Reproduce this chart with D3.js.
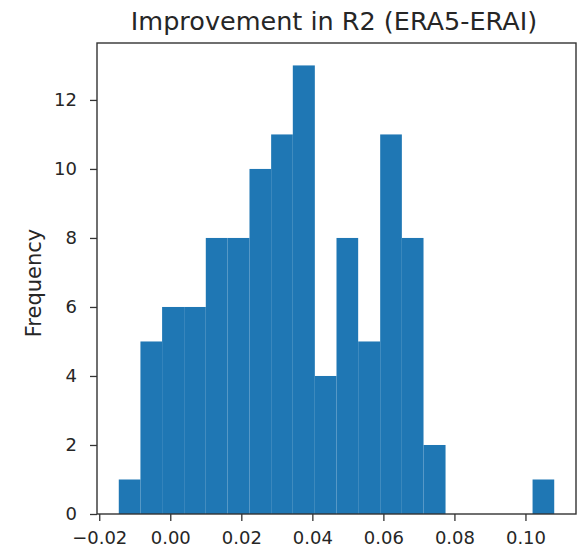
<!DOCTYPE html>
<html>
<head>
<meta charset="utf-8">
<script src="https://cdn.jsdelivr.net/npm/d3@7"></script>
<style>
  html, body { margin: 0; padding: 0; background: #ffffff; }
  svg { display: block; }
  text { font-family: "DejaVu Sans", sans-serif; fill: #262626; }
</style>
</head>
<body>
<script>
// Histogram of the R2 improvement, ERA5 minus ERA-Interim
const binEdges = [-0.0145, -0.0084, -0.0023, 0.0039, 0.0100, 0.0161, 0.0223,
                  0.0284, 0.0345, 0.0407, 0.0468, 0.0529, 0.0591, 0.0652,
                  0.0713, 0.0775, 0.0836, 0.0897, 0.0959, 0.1020, 0.1081];
const binCounts = [1, 5, 6, 6, 8, 8, 10, 11, 13, 4, 8, 5, 11, 8, 2, 0, 0, 0, 0, 1];
const xTickValues = [-0.02, 0.00, 0.02, 0.04, 0.06, 0.08, 0.10];
const yTickValues = [0, 2, 4, 6, 8, 10, 12];
const titleText = "Improvement in R2 (ERA5-ERAI)";
const yLabelText = "Frequency";

const W = 582, H = 553;
const plot = { left: 97, right: 576, top: 43, bottom: 514 };

const bins = binCounts.map((c, i) => ({ x0: binEdges[i], x1: binEdges[i + 1], count: c }));

const lo = binEdges[0], hi = binEdges[binEdges.length - 1];
const pad = 0.05 * (hi - lo);
const x = d3.scaleLinear().domain([lo - pad, hi + pad]).range([plot.left, plot.right]);
const yMax = d3.max(binCounts) * 1.05;
const y = d3.scaleLinear().domain([0, yMax]).range([plot.bottom, plot.top]);

const svg = d3.select("body").append("svg").attr("width", W).attr("height", H);

// bars
svg.append("g")
  .selectAll("rect")
  .data(bins.filter(d => d.count > 0))
  .join("rect")
  .attr("x", d => x(d.x0))
  .attr("width", d => x(d.x1) - x(d.x0))
  .attr("y", d => y(d.count))
  .attr("height", d => y(0) - y(d.count))
  .attr("fill", "#1f77b4");

// axes
const fmt = v => (v < 0 ? "\u2212" : "") + d3.format(".2f")(Math.abs(v));
const xAxis = d3.axisBottom(x).tickValues(xTickValues).tickFormat(fmt)
  .tickSizeInner(7).tickSizeOuter(0).tickPadding(10);
const yAxis = d3.axisLeft(y).tickValues(yTickValues).tickFormat(d3.format("d"))
  .tickSizeInner(7).tickSizeOuter(0).tickPadding(13);

const gx = svg.append("g").attr("transform", `translate(0,${plot.bottom})`).call(xAxis);
const gy = svg.append("g").attr("transform", `translate(${plot.left},0)`).call(yAxis);
[gx, gy].forEach(g => {
  g.select(".domain").remove();
  g.selectAll(".tick line").attr("stroke", "#333").attr("stroke-width", 1.3);
  g.selectAll(".tick text").attr("font-size", 18).attr("fill", "#333");
});

// frame
svg.append("rect")
  .attr("x", plot.left).attr("y", plot.top)
  .attr("width", plot.right - plot.left).attr("height", plot.bottom - plot.top)
  .attr("fill", "none").attr("stroke", "#333").attr("stroke-width", 1.4);

// title
svg.append("text")
  .attr("x", 334).attr("y", 30)
  .attr("text-anchor", "middle").attr("font-size", 25.5).attr("fill", "#333")
  .text(titleText);

// y label
svg.append("text")
  .attr("transform", `translate(41,283) rotate(-90)`)
  .attr("text-anchor", "middle").attr("font-size", 21).attr("fill", "#333")
  .text(yLabelText);
</script>
</body>
</html>
